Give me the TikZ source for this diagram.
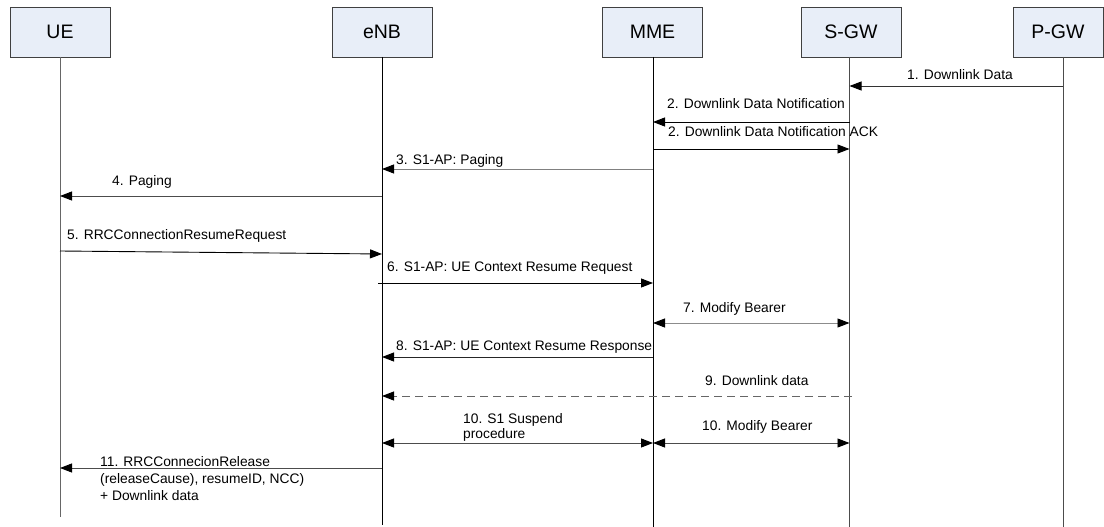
\documentclass[tikz,border=0pt]{standalone}
\usepackage{fontspec}
\setmainfont{Liberation Sans}
\usetikzlibrary{arrows.meta,calc}
\definecolor{boxfill}{RGB}{232,238,248}
\begin{document}
\begin{tikzpicture}[x=1pt,y=-1pt,
  ent/.style={draw=black!75, fill=boxfill, minimum width=100pt, minimum height=50pt, inner sep=0pt, font=\fontsize{19.5}{22}\selectfont, line width=0.8pt},
  life/.style={line width=0.9pt},
  tipx/.tip={Triangle[length=12pt,width=9pt,color=black]},
  msg/.style={line width=0.9pt, -tipx},
  bidir/.style={line width=0.9pt, tipx-tipx},
  lbl/.style={font=\fontsize{13.8}{15}\selectfont, inner sep=0pt, anchor=west, align=left},
]
\useasboundingbox (0,0) rectangle (1104,527);

% entities
\node[ent] (ue) at (60,32) {UE};
\node[ent] (enb) at (382,32) {eNB};
\node[ent] (mme) at (652.5,32) {MME};
\node[ent] (sgw) at (851,32) {S-GW};
\node[ent, minimum width=90pt] (pgw) at (1058,32) {P-GW};

% lifeline tops
\coordinate (uel) at (60,57);
\coordinate (enbl) at (382,57);
\coordinate (mmel) at (653,57);
\coordinate (sgwl) at (849.5,57);
\coordinate (pgwl) at (1063,57);

% lifelines
\draw[life, black!60] (uel) -- (uel |- 0,517);
\draw[life] (enbl) -- (enbl |- 0,525);
\draw[life] (mmel) -- (mmel |- 0,527);
\draw[life, black!70] (sgwl) -- (sgwl |- 0,527);
\draw[life, black!70] (pgwl) -- (pgwl |- 0,527);

% 1
\draw[msg, black!80] (pgwl |- 0,86) -- (sgwl |- 0,86);
\node[lbl] (m1) at (907,75) {1. Downlink Data};
% 2
\draw[msg] (sgwl |- 0,122) -- (mmel |- 0,122);
\node[lbl] (m2) at (667,104) {2. Downlink Data Notification};
% 2 ACK
\draw[msg] (mmel |- 0,149) -- (sgwl |- 0,149);
\node[lbl] (m2b) at (668,132) {2. Downlink Data Notification ACK};
% 3
\draw[msg, black!50] (mmel |- 0,169) -- (enbl |- 0,169);
\node[lbl] (m3) at (396,161) {3. S1-AP: Paging};
% 4
\draw[msg, black!70] (enbl |- 0,196) -- (uel |- 0,196);
\node[lbl] (m4) at (112,182) {4. Paging};
% 5
\draw[msg] (uel |- 0,251) -- (enbl |- 0,254);
\node[lbl] (m5) at (67,236) {5. RRCConnectionResumeRequest};
% 6
\draw[msg] ($(enbl |- 0,283)+(-4,0)$) -- (mmel |- 0,283);
\node[lbl] (m6) at (387,268) {6. S1-AP: UE Context Resume Request};
% 7
\draw[bidir, black!45] (mmel |- 0,323) -- (sgwl |- 0,323);
\node[lbl] (m7) at (683,309) {7. Modify Bearer};
% 8
\draw[msg, black!85] (mmel |- 0,357) -- (enbl |- 0,357);
\node[lbl] (m8) at (396,347) {8. S1-AP: UE Context Resume Response};
% 9
\draw[msg, black!60, dash pattern=on 8pt off 5pt] ($(sgwl |- 0,396)+(2.5,0)$) -- (enbl |- 0,396);
\node[lbl] (m9) at (705,381) {9. Downlink data};
% 10
\draw[bidir, black!70] (enbl |- 0,443) -- (mmel |- 0,443);
\node[lbl] (m10a) at (463,427.5) {10. S1 Suspend\\procedure};
\draw[bidir, black!70] (mmel |- 0,443) -- (sgwl |- 0,443);
\node[lbl] (m10b) at (702,427) {10. Modify Bearer};
% 11
\draw[msg, black!70] (enbl |- 0,468) -- (uel |- 0,468);
\node[lbl, font=\fontsize{13.8}{17}\selectfont] (m11) at (100,479) {11. RRCConnecionRelease\\(releaseCause), resumeID, NCC)\\+ Downlink data};
\end{tikzpicture}
\end{document}
